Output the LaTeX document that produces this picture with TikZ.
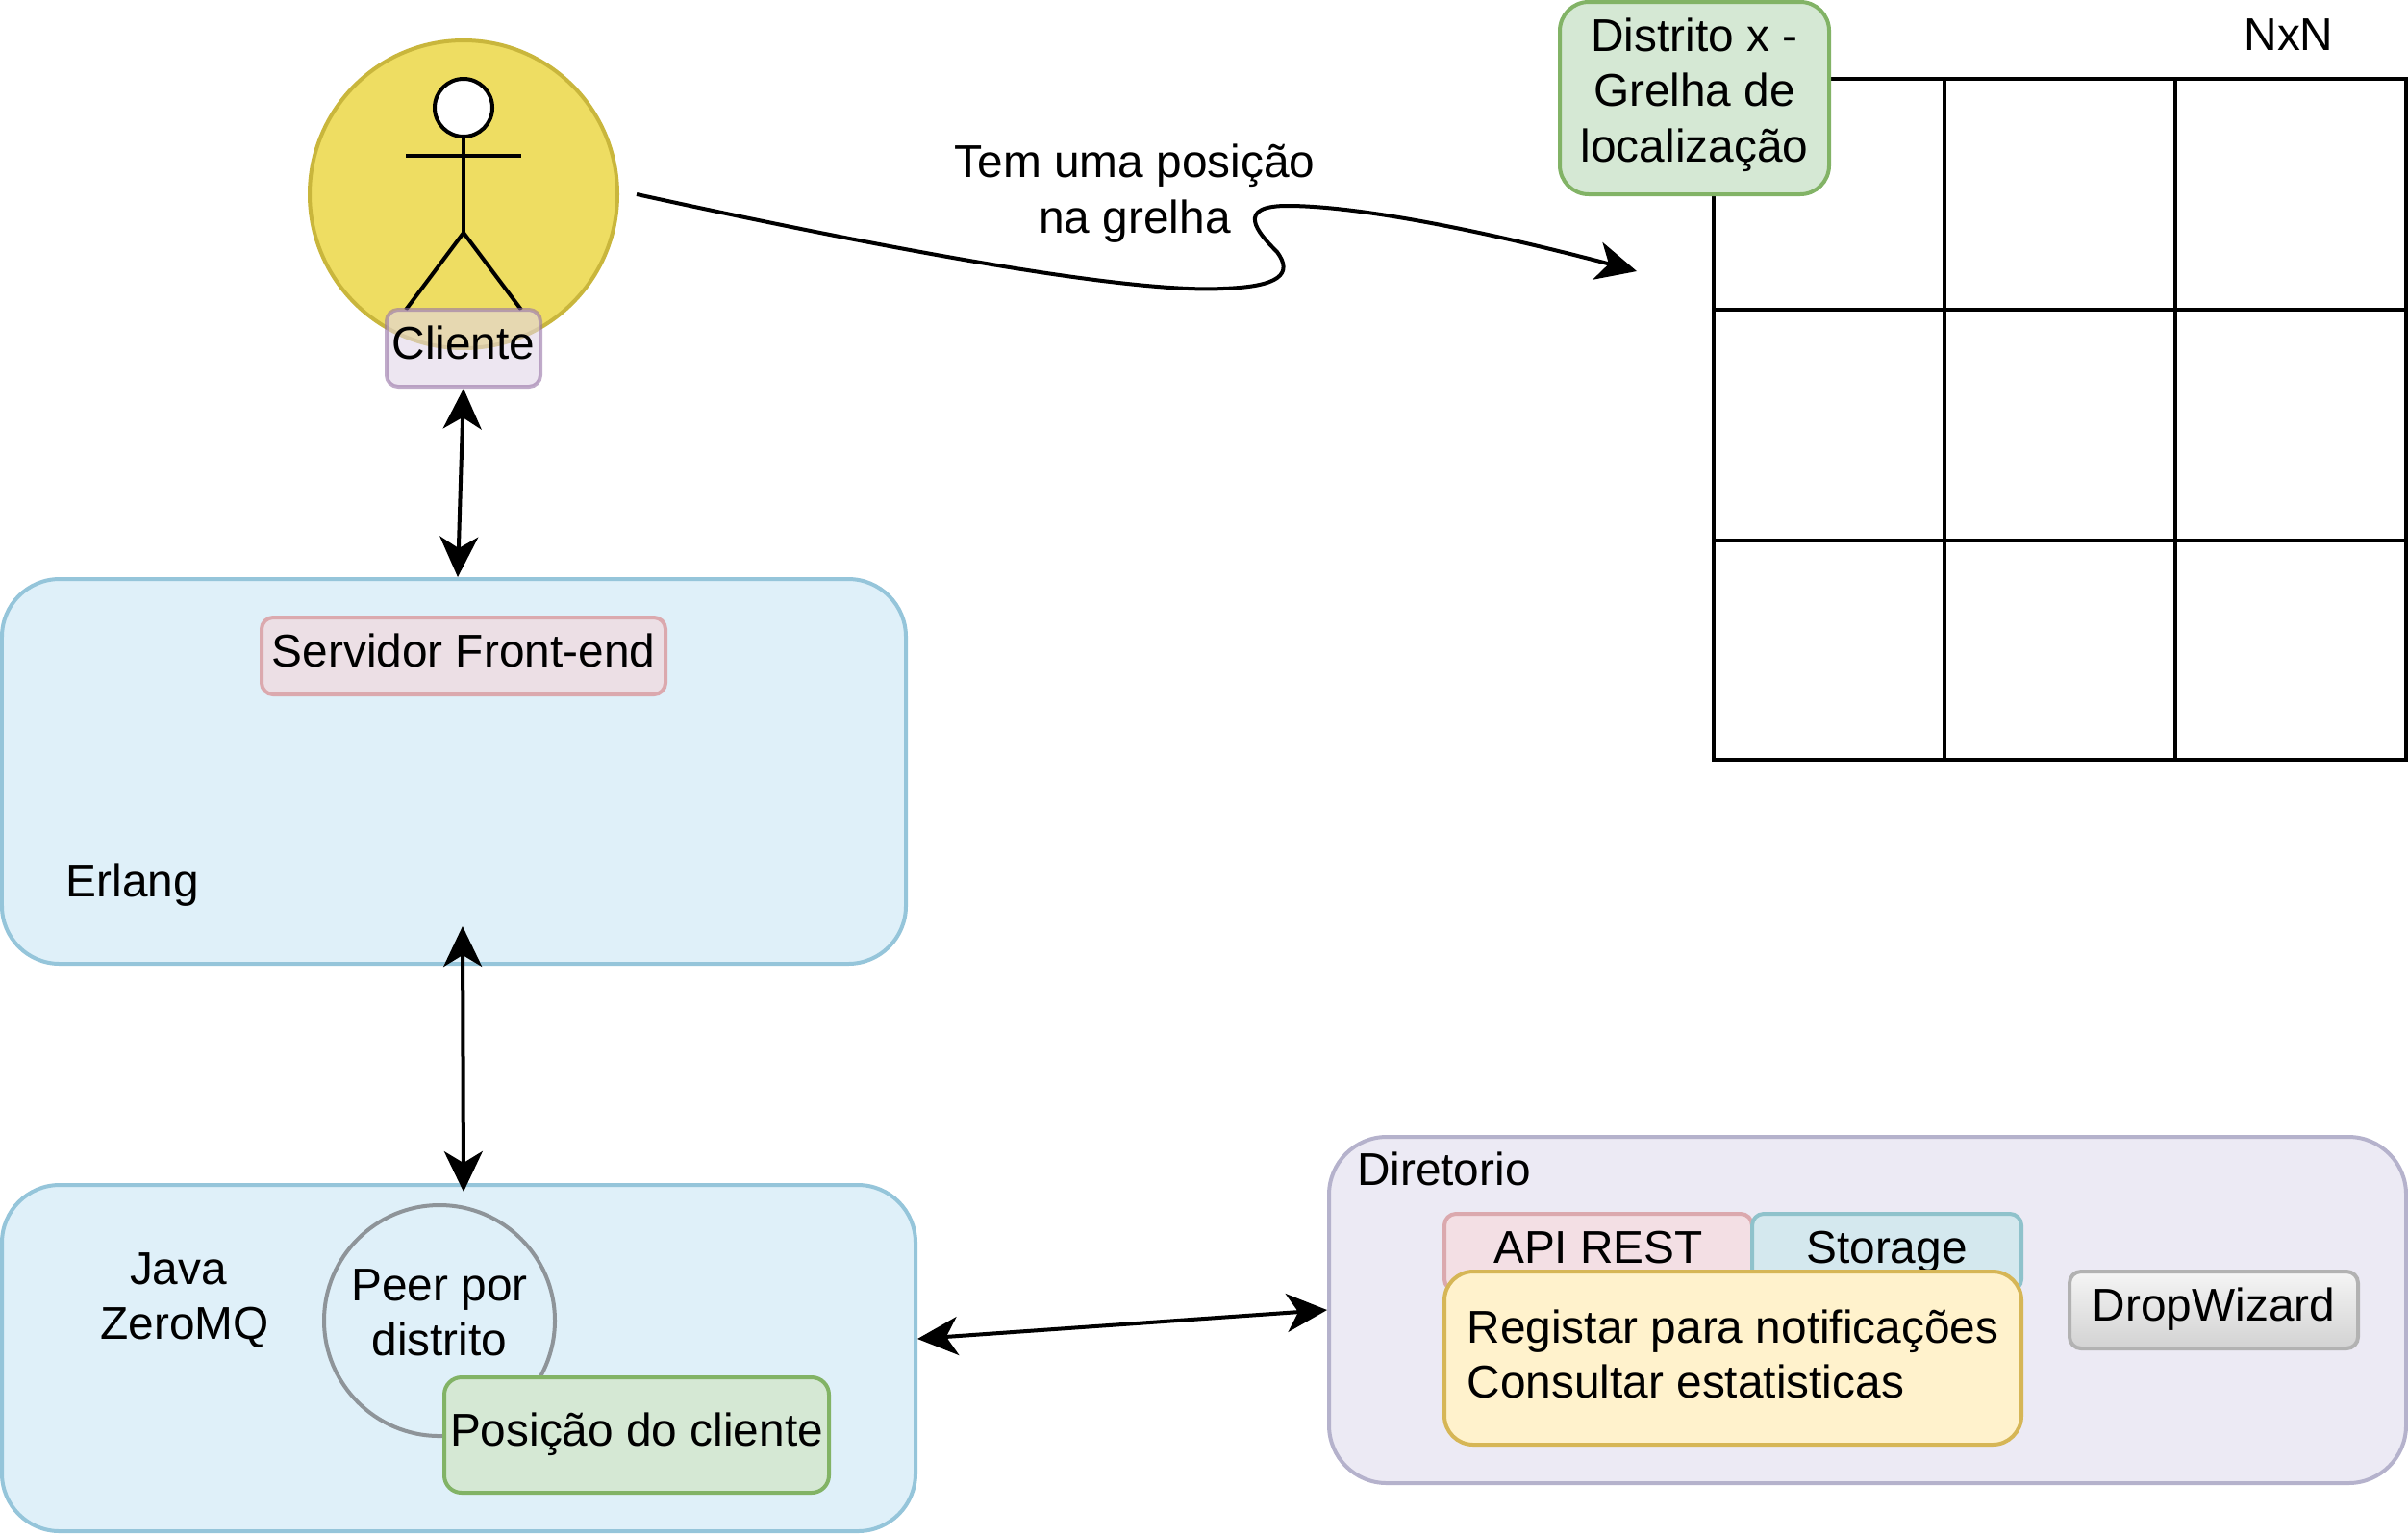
\documentclass[tikz,border=0pt]{standalone}
\usepackage{fontspec}
\setsansfont{Liberation Sans}
\usetikzlibrary{arrows.meta,positioning}
\definecolor{boxblue}{HTML}{DFF0F9}
\definecolor{lineblue}{HTML}{95C5DA}
\definecolor{boxviolet}{HTML}{ECEAF4}
\definecolor{lineviolet}{HTML}{B5B2CC}
\definecolor{boxyellow}{HTML}{EEDD62}
\definecolor{lineyellow}{HTML}{C9B63C}
\definecolor{boxgreen}{HTML}{D5E8D4}
\definecolor{linegreen}{HTML}{82B366}
\definecolor{boxpink}{HTML}{ECDFE5}
\definecolor{boxrose}{HTML}{F3DFE4}
\definecolor{linepink}{HTML}{DBA9AE}
\definecolor{boxcyan}{HTML}{D4E8EE}
\definecolor{linecyan}{HTML}{8FC2CB}
\definecolor{boxcream}{HTML}{FFF2CC}
\definecolor{linecream}{HTML}{D6B656}
\definecolor{boxlilac}{HTML}{E1D5E7}
\definecolor{linelilac}{HTML}{9673A6}
\definecolor{linepeer}{HTML}{8E9499}

\begin{document}
\begin{tikzpicture}[font=\sffamily\fontsize{13.6}{16.4}\selectfont, >={Stealth[length=4.2mm,width=4mm,inset=1.2mm]},
line width=0.4mm,
label/.style={inner sep=0pt, align=center, execute at begin node=\strut, execute at end node=\strut},
group/.style={label, draw=lineblue, fill=boxblue, rounded corners=6mm},
tag/.style={label, draw, rounded corners=1.2mm},
link/.style={<->}]
\useasboundingbox (0,0) rectangle (25.04,-15.96);

% cliente
\node[circle, draw=lineyellow, fill=boxyellow, minimum size=32mm, inner sep=0pt] (circulo) at (4.82,-2.02) {};
\node[circle, draw, fill=white, minimum size=6mm, inner sep=0pt] (cabeca) at (4.82,-1.12) {};
\coordinate (anca) at (4.82,-2.42);
\draw (cabeca) -- (anca);
\draw (4.22,-1.62) -- (5.42,-1.62);
\draw (anca) -- (4.22,-3.22);
\draw (anca) -- (5.42,-3.22);
\node[tag, draw=linelilac, fill=boxlilac, draw opacity=0.6, fill opacity=0.6, text opacity=1, minimum width=16mm, minimum height=8mm] (cliente) at (4.82,-3.62) {Cliente};

% grelha
\draw (17.82,-0.82) rectangle (25.02,-7.9);
\draw (20.22,-0.82) -- (20.22,-7.9);
\draw (22.62,-0.82) -- (22.62,-7.9);
\draw (17.82,-3.22) -- (25.02,-3.22);
\draw (17.82,-5.62) -- (25.02,-5.62);
\node[tag, draw=linegreen, fill=boxgreen, rounded corners=3mm, minimum width=28mm, minimum height=20mm] (distrito) at (17.62,-1.02) {Distrito x -\\Grelha de\\localização};
\node[label] (nxn) at (23.8,-0.41) {NxN};

% posicao na grelha
\node[label] (posicao) at (11.8,-2.05) {Tem uma posição\\na grelha};
\coordinate (origem) at (6.62,-2.02);
\coordinate (destino) at (17.02,-2.82);
\draw[->] (origem) .. controls (9.5,-2.65) and (11.8,-3.05) .. (12.72,-3.0)
  .. controls (13.3,-2.98) and (13.45,-2.85) .. (13.28,-2.62)
  .. controls (13.08,-2.42) and (12.82,-2.13) .. (13.42,-2.14)
  .. controls (14.2,-2.15) and (15.5,-2.42) .. (destino);

% erlang
\node[group, minimum width=94mm, minimum height=40mm] (erlang) at (4.72,-8.02) {};
\node[tag, draw=linepink, fill=boxpink, minimum width=42mm, minimum height=8mm] (servidor) at (4.82,-6.82) {Servidor Front-end};
\node[label] (lingerlang) at (1.38,-9.21) {Erlang};

% java
\node[group, minimum width=95mm, minimum height=36mm] (java) at (4.77,-14.12) {};
\node[label] (lingjava) at (1.92,-13.56) {Java\kern3.7pt\\ZeroMQ};
\node[label, circle, draw=linepeer, minimum size=24mm] (peer) at (4.57,-13.73) {Peer por\\distrito};
\node[tag, draw=linegreen, fill=boxgreen, rounded corners=1.8mm, minimum width=40mm, minimum height=12mm] (cliposicao) at (6.62,-14.92) {Posição do cliente};

% diretorio
\node[group, draw=lineviolet, fill=boxviolet, minimum width=112mm, minimum height=36mm] (diretorio) at (19.42,-13.62) {};
\node[label, anchor=west] (nomediretorio) at (14.09,-12.21) {Diretorio};
\node[tag, draw=linepink, fill=boxrose, minimum width=32mm, minimum height=8mm] (api) at (16.62,-13.02) {API REST};
\node[tag, draw=linecyan, fill=boxcyan, minimum width=28mm, minimum height=8mm, right=-0.4mm of api] (storage) {Storage};
\node[tag, draw=linecream, fill=boxcream, rounded corners=3mm, align=left, minimum width=60mm, minimum height=18mm] (funcoes) at (18.02,-14.12) {\rule{0pt}{12.3pt}Registar para notificações\\Consultar estatisticas};
\node[tag, draw=gray!60, top color=gray!8, bottom color=gray!35, minimum width=30mm, minimum height=8mm] (dropwizard) at (23.02,-13.62) {DropWizard};

% ligacoes
\draw[link] (cliente.south) -- ([xshift=0.4mm]erlang.north);
\draw[link] ([xshift=0.9mm,yshift=4.1mm]erlang.south) -- ([xshift=0.5mm,yshift=-0.9mm]java.north);
\draw[link] ([yshift=2mm]java.east) -- (diretorio.west);
\end{tikzpicture}
\end{document}
